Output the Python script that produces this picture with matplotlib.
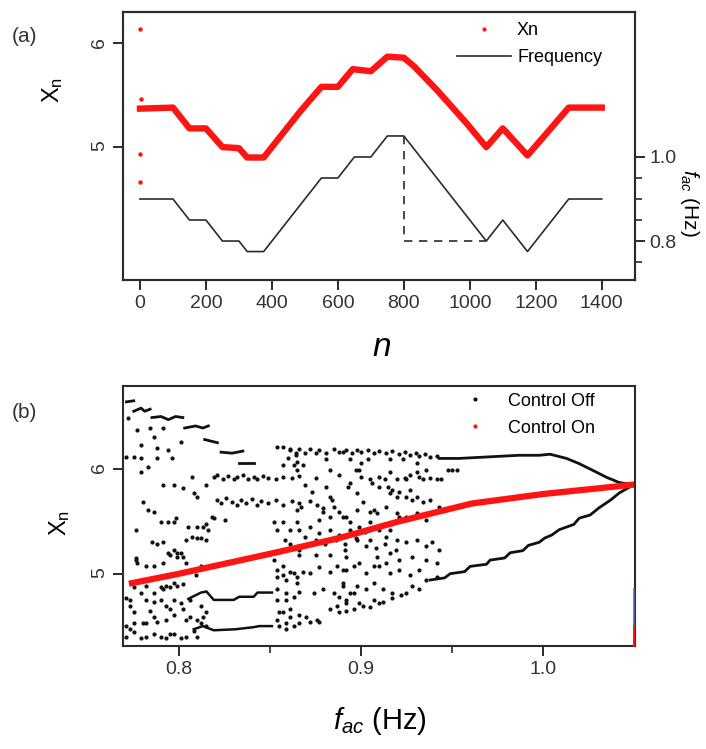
import matplotlib.pyplot as plt
from matplotlib.lines import Line2D

plt.rcParams['font.family'] = ['Liberation Sans', 'DejaVu Sans']
plt.rcParams['mathtext.fontset'] = 'custom'
plt.rcParams['mathtext.rm'] = 'Liberation Sans'
plt.rcParams['mathtext.it'] = 'Liberation Sans:italic'

# ---- panel (a): Xn and drive frequency against iteration n
n_freq = [0, 100, 150, 200, 250, 300, 325, 375, 550, 600, 650, 700, 750, 800, 1050, 1100, 1175, 1300, 1400]
freq = [0.9, 0.9, 0.85, 0.85, 0.8, 0.8, 0.775, 0.775, 0.95, 0.95, 1.0, 1.0, 1.05, 1.05, 0.8, 0.85, 0.775, 0.9, 0.9]
n_dash = [800, 800, 1050]
f_dash = [1.05, 0.8, 0.8]
n_xn = [0, 100, 150, 200, 250, 300, 325, 375, 485, 550, 600, 645, 700, 750, 800, 830, 900, 990, 1050, 1100, 1175, 1300, 1400]
xn = [5.37, 5.38, 5.18, 5.18, 5.0, 4.99, 4.9, 4.9, 5.34, 5.58, 5.58, 5.75, 5.73, 5.87, 5.86, 5.78, 5.55, 5.23, 5.0, 5.18, 4.92, 5.38, 5.38]
n_stray = [0, 0, 0, 3]
xn_stray = [6.14, 4.93, 4.66, 5.46]

# ---- panel (b): bifurcation diagram, control on
on_f = [0.774, 0.8, 0.85, 0.888, 0.921, 0.961, 1.0, 1.05]
on_x = [4.91, 5.0, 5.19, 5.34, 5.50, 5.67, 5.76, 5.85]

# control off: period-2 branches on the right
upper_f = [0.943, 0.954, 0.965, 0.976, 0.987, 0.998, 1.004, 1.013, 1.020, 1.027, 1.035, 1.042, 1.050]
upper_x = [6.10, 6.10, 6.11, 6.12, 6.13, 6.13, 6.14, 6.10, 6.05, 5.99, 5.92, 5.87, 5.85]
lower_f = [0.938, 0.946, 0.949, 0.957, 0.960, 0.969, 0.971, 0.979, 0.982, 0.989, 0.992, 0.998,
           1.001, 1.005, 1.009, 1.017, 1.020, 1.026, 1.031, 1.037, 1.042, 1.050]
lower_x = [4.94, 4.96, 5.00, 5.02, 5.07, 5.09, 5.13, 5.15, 5.20, 5.22, 5.27, 5.30,
           5.34, 5.37, 5.42, 5.47, 5.53, 5.56, 5.63, 5.70, 5.77, 5.85]

# short dense segments at low frequency
stair_f = [[0.771, 0.775], [0.775, 0.779, 0.781, 0.784], [0.785, 0.790, 0.794, 0.798, 0.802],
           [0.803, 0.809, 0.813, 0.816], [0.814, 0.821], [0.823, 0.829, 0.835], [0.833, 0.841]]
stair_x = [[6.64, 6.65], [6.55, 6.58, 6.55, 6.57], [6.49, 6.50, 6.47, 6.50, 6.49],
           [6.39, 6.41, 6.39, 6.41], [6.28, 6.25], [6.16, 6.15, 6.17], [6.06, 6.06]]
step_hi_f = [0.805, 0.812, 0.815, 0.819, 0.830, 0.833, 0.841, 0.843, 0.851]
step_hi_x = [4.76, 4.82, 4.83, 4.75, 4.75, 4.78, 4.78, 4.82, 4.82]
step_lo_f = [0.808, 0.813, 0.819, 0.831, 0.841, 0.844, 0.851]
step_lo_x = [4.47, 4.50, 4.46, 4.47, 4.49, 4.50, 4.50]

# scattered points of the chaotic region
off_f = [
    # upper-left
    0.772, 0.777, 0.786, 0.779, 0.788, 0.794, 0.801, 0.771, 0.775, 0.779, 0.788, 0.796, 0.779, 0.783,
    0.791, 0.797, 0.807, 0.802, 0.808, 0.810, 0.815, 0.780, 0.783, 0.786, 0.790, 0.794, 0.798, 0.805,
    0.810, 0.815, 0.818, 0.785, 0.788, 0.791, 0.794, 0.797, 0.799, 0.801, 0.776, 0.777, 0.782, 0.812,
    0.815, 0.819, 0.825, 0.784, 0.791,
    # lower-left
    0.771, 0.773, 0.775, 0.771, 0.775, 0.779, 0.782, 0.786, 0.790, 0.793, 0.797, 0.801, 0.804, 0.782,
    0.788, 0.793, 0.797, 0.790, 0.797, 0.801, 0.786, 0.793, 0.797, 0.802, 0.806, 0.812, 0.815, 0.812,
    0.815, 0.808, 0.804, 0.782, 0.779, 0.790, 0.793, 0.784, 0.775, 0.776, 0.797, 0.804, 0.807, 0.810,
    0.813, 0.816, 0.776, 0.786, 0.791, 0.795, 0.799, 0.802, 0.804, 0.812, 0.809, 0.794, 0.782, 0.791,
    0.795, 0.799, 0.773, 0.786, 0.795, 0.802, 0.806, 0.810, 0.813, 0.786, 0.780, 0.775, 0.773, 0.771,
    0.795, 0.810,
    # bands near 5.92 and 5.69
    0.819, 0.821, 0.824, 0.827, 0.830, 0.832, 0.835, 0.838, 0.841, 0.843, 0.846, 0.849, 0.853, 0.857,
    0.862, 0.866,
    0.821, 0.823, 0.826, 0.829, 0.832, 0.834, 0.837, 0.840, 0.843, 0.845, 0.849, 0.853, 0.857, 0.862,
    0.866,
    # 0.85 - 0.87
    0.852, 0.854, 0.857, 0.861, 0.865, 0.852, 0.857, 0.854, 0.859, 0.863, 0.865, 0.854, 0.859, 0.863,
    0.855, 0.861, 0.854, 0.859, 0.863, 0.854, 0.857, 0.861, 0.864, 0.860, 0.865, 0.857,
    # top edge of the chaotic band
    0.861, 0.864, 0.866, 0.869, 0.872, 0.875, 0.877, 0.881, 0.885, 0.888, 0.892, 0.895, 0.898, 0.900,
    0.904, 0.907, 0.910, 0.914, 0.917, 0.921, 0.924, 0.927, 0.930, 0.932, 0.935, 0.938, 0.942,
    # middle, upper part
    0.863, 0.865, 0.868, 0.881, 0.883, 0.900, 0.904, 0.916, 0.923, 0.881, 0.893, 0.900, 0.906, 0.910,
    0.913, 0.916, 0.920, 0.924, 0.927, 0.931, 0.931, 0.934, 0.938, 0.942, 0.944, 0.948, 0.950, 0.953,
    0.883, 0.884, 0.885, 0.872, 0.876, 0.879, 0.879, 0.865, 0.867, 0.888, 0.898, 0.905, 0.909, 0.916,
    0.920, 0.921, 0.925, 0.928, 0.931, 0.934, 0.938, 0.892, 0.921, 0.915, 0.917,
    0.890, 0.894, 0.899, 0.905, 0.910, 0.925, 0.927, 0.932, 0.936, 0.894, 0.898, 0.901, 0.907, 0.914,
    0.920, 0.925, 0.931, 0.936, 0.939, 0.943, 0.869, 0.875, 0.888, 0.897, 0.873,
    # middle, around the crossing
    0.890, 0.894, 0.899, 0.905, 0.910, 0.914, 0.920, 0.925, 0.931, 0.936, 0.939, 0.943, 0.898, 0.903,
    0.909, 0.916, 0.921, 0.928, 0.936, 0.942, 0.892, 0.899, 0.907, 0.914,
    0.866, 0.869, 0.872, 0.875, 0.877, 0.880, 0.883, 0.886, 0.888, 0.891, 0.894, 0.897, 0.902, 0.905,
    0.908, 0.913, 0.916, 0.919, 0.877, 0.883, 0.872, 0.866, 0.861, 0.858, 0.866, 0.875, 0.883, 0.891,
    # middle, lower part
    0.890, 0.896, 0.903, 0.910, 0.916, 0.921, 0.927, 0.932, 0.936, 0.942, 0.890, 0.898, 0.903, 0.907,
    0.912, 0.917, 0.925, 0.928, 0.932, 0.892, 0.899, 0.907, 0.912, 0.917, 0.922, 0.888, 0.892, 0.896,
    0.901, 0.905, 0.910, 0.888, 0.894,
    0.854, 0.857, 0.861, 0.865, 0.868, 0.872, 0.877, 0.883, 0.887, 0.892, 0.854, 0.859, 0.866, 0.874,
    0.879, 0.885, 0.890, 0.896, 0.857, 0.861, 0.866, 0.870, 0.876, 0.883, 0.887, 0.892, 0.855, 0.859,
    0.866, 0.872, 0.877,
]
off_x = [
    # upper-left
    6.49, 6.37, 6.30, 6.23, 6.20, 6.18, 6.26, 6.11, 6.11, 6.10, 6.10, 6.10, 5.97, 6.02,
    5.85, 5.85, 5.92, 5.82, 5.77, 5.73, 5.85, 5.68, 5.61, 5.59, 5.49, 5.49, 5.53, 5.45,
    5.45, 5.47, 5.54, 5.30, 5.28, 5.30, 5.20, 5.23, 5.16, 5.20, 5.15, 5.10, 5.07, 5.34,
    5.32, 5.53, 5.51, 6.39, 6.39,
    # lower-left
    4.77, 4.69, 4.63, 4.50, 4.44, 4.39, 4.40, 4.42, 4.40, 4.39, 4.42, 4.39, 4.40, 4.53,
    4.54, 4.56, 4.61, 4.75, 4.75, 4.72, 4.82, 4.88, 4.91, 4.90, 4.75, 4.69, 4.63, 4.53,
    4.50, 4.45, 4.56, 4.75, 4.82, 4.87, 4.69, 4.64, 4.87, 5.42, 5.49, 5.32, 5.35, 5.34,
    5.45, 5.42, 5.13, 5.07, 5.10, 5.18, 5.20, 5.16, 5.10, 5.07, 4.99, 4.99, 4.88, 4.85,
    4.87, 4.88, 4.75, 4.73, 4.66, 4.66, 4.59, 4.56, 4.59, 4.59, 4.53, 4.53, 4.47, 4.40,
    4.42, 4.40,
    # bands near 5.92 and 5.69
    5.92, 5.94, 5.90, 5.93, 5.90, 5.92, 5.94, 5.90, 5.92, 5.90, 5.93, 5.91, 5.90, 5.92,
    5.91, 5.93,
    5.70, 5.67, 5.72, 5.68, 5.66, 5.70, 5.67, 5.71, 5.66, 5.69, 5.67, 5.70, 5.66, 5.69,
    5.67,
    # 0.85 - 0.87
    5.49, 5.42, 5.49, 5.42, 5.49, 5.13, 5.07, 4.97, 4.94, 5.01, 4.91, 4.75, 4.75, 4.78,
    4.63, 4.59, 4.56, 4.53, 4.50, 6.21, 6.21, 6.18, 6.13, 6.10, 6.07, 6.04,
    # top edge of the chaotic band
    6.19, 6.15, 6.19, 6.15, 6.19, 6.15, 6.18, 6.15, 6.19, 6.16, 6.18, 6.15, 6.18, 6.16,
    6.18, 6.15, 6.17, 6.15, 6.17, 6.14, 6.16, 6.13, 6.15, 6.12, 6.14, 6.11, 6.12,
    # middle, upper part
    6.04, 5.99, 6.04, 6.09, 5.99, 6.06, 6.09, 6.09, 6.09, 5.83, 5.83, 5.92, 5.87, 5.92,
    5.90, 5.97, 5.90, 5.91, 5.94, 6.06, 5.97, 5.90, 5.91, 5.90, 5.90, 5.99, 5.99, 5.99,
    5.73, 5.70, 5.64, 5.69, 5.66, 5.63, 5.59, 5.61, 5.64, 5.59, 5.61, 5.59, 5.58, 5.77,
    5.73, 5.78, 5.73, 5.70, 5.73, 5.68, 5.70, 5.54, 5.54, 5.83, 5.80,
    6.16, 6.09, 5.99, 5.90, 5.83, 5.90, 5.80, 5.92, 5.99, 5.87, 5.77, 5.68, 5.61, 5.64,
    5.58, 5.54, 5.58, 5.51, 5.58, 5.64, 5.85, 5.91, 5.94, 5.99, 5.78,
    # middle, around the crossing
    5.54, 5.49, 5.45, 5.49, 5.42, 5.35, 5.32, 5.30, 5.32, 5.26, 5.30, 5.23, 5.32, 5.26,
    5.16, 5.20, 5.13, 5.16, 5.13, 5.10, 5.16, 5.10, 5.07, 5.10,
    5.42, 5.35, 5.45, 5.32, 5.39, 5.28, 5.42, 5.32, 5.37, 5.28, 5.42, 5.34, 5.40, 5.32,
    5.25, 5.28, 5.42, 5.23, 5.51, 5.54, 5.28, 5.23, 5.28, 5.32, 5.18, 5.18, 5.18, 5.23,
    # middle, lower part
    5.04, 5.07, 5.01, 5.07, 5.01, 5.04, 4.99, 5.04, 4.94, 4.97, 4.91, 4.88, 4.85, 4.91,
    4.85, 4.82, 4.82, 4.88, 4.85, 4.75, 4.72, 4.75, 4.73, 4.77, 4.80, 4.63, 4.64, 4.66,
    4.69, 4.68, 4.72, 4.78, 4.82,
    5.04, 4.99, 5.02, 4.97, 5.02, 5.01, 5.06, 5.02, 5.07, 5.04, 4.85, 4.82, 4.83, 4.82,
    4.85, 4.82, 4.88, 4.82, 4.63, 4.66, 4.61, 4.59, 4.56, 4.66, 4.69, 4.72, 4.50, 4.47,
    4.53, 4.54, 4.54,
]

ink = '#2b2b2b'
red = '#ff1414'

fig = plt.figure(figsize=(7.06, 7.49), dpi=100)

# ---------------- (a)
ax1 = fig.add_axes([0.174, 0.626, 0.725, 0.358])
ax1r = ax1.twinx()
ax1.plot(n_xn, xn, color=red, lw=4.6, solid_joinstyle='round')
ax1.plot(n_stray, xn_stray, ls='none', marker='o', ms=2.2, color=red)
ax1r.plot(n_freq, freq, color=ink, lw=1.2)
ax1r.plot(n_dash, f_dash, color=ink, lw=1.2, ls=(0, (5, 4)))

ax1.set_xlim(-52, 1500)
ax1.set_ylim(3.72, 6.3)
ax1r.set_ylim(0.707, 1.345)
ax1.set_xticks(range(0, 1401, 200))
ax1.set_yticks([5, 6])
ax1r.set_yticks([0.8, 1.0])
ax1r.set_yticklabels(['0.8', '1.0'])
ax1r.set_yticks([0.75, 0.85, 0.9, 0.95], minor=True)

ax1.set_xlabel('n', fontstyle='italic', fontsize=24, va='center')
ax1.xaxis.set_label_coords(0.506, -0.25)
ax1.set_ylabel(r'X$_{\mathrm{n}}$', fontsize=17, va='center')
ax1.yaxis.set_label_coords(-0.137, 0.709)
ax1r.set_ylabel(r'$f_{ac}$ (Hz)', fontsize=15, rotation=270, va='center')
ax1r.yaxis.set_label_coords(1.107, 0.287)

leg_a = [Line2D([], [], ls='none', marker='o', ms=2, color=red),
         Line2D([], [], color=ink, lw=1.2)]
ax1r.legend(leg_a, ['Xn', 'Frequency'], loc='upper left', bbox_to_anchor=(0.652, 0.963),
            frameon=False, fontsize=13, handlelength=3, handletextpad=0.35,
            labelspacing=0.55, borderpad=0, borderaxespad=0)

# ---------------- (b)
ax2 = fig.add_axes([0.174, 0.1375, 0.725, 0.347])
ax2.plot(off_f, off_x, ls='none', marker='o', ms=2.0, color='#111111')
for sf, sx in zip(stair_f, stair_x):
    ax2.plot(sf, sx, color='#111111', lw=2.0)
ax2.plot(step_hi_f, step_hi_x, color='#111111', lw=1.8)
ax2.plot(step_lo_f, step_lo_x, color='#111111', lw=1.8)
ax2.plot(upper_f, upper_x, color='#111111', lw=2.0)
ax2.plot(lower_f, lower_x, color='#111111', lw=2.0)
ax2.plot(on_f, on_x, color=red, lw=4.5)
ax2.plot([1.05, 1.05], [4.31, 4.50], color=red, lw=1.5, clip_on=False, zorder=5)
ax2.plot([1.05, 1.05], [4.50, 4.85], color='#5a6aa8', lw=1.2, clip_on=False, zorder=5)

ax2.set_xlim(0.769, 1.0505)
ax2.set_ylim(4.31, 6.79)
ax2.set_xticks([0.8, 0.9, 1.0])
ax2.set_xticklabels(['0.8', '0.9', '1.0'])
ax2.set_xticks([0.85, 0.95], minor=True)
ax2.set_yticks([5, 6])

ax2.set_xlabel(r'$f_{ac}$ (Hz)', fontsize=21, va='center')
ax2.xaxis.set_label_coords(0.502, -0.29)
ax2.set_ylabel(r'X$_{\mathrm{n}}$', fontsize=17, va='center')
ax2.yaxis.set_label_coords(-0.123, 0.473)

leg_b = [Line2D([], [], ls='none', marker='o', ms=2, color='#111111'),
         Line2D([], [], ls='none', marker='o', ms=2, color=red)]
ax2.legend(leg_b, ['Control Off', 'Control On'], loc='upper left', bbox_to_anchor=(0.635, 0.975),
           frameon=False, fontsize=13, handlelength=3, handletextpad=0.35,
           labelspacing=0.55, borderpad=0, borderaxespad=0)

for ax in (ax1, ax1r, ax2):
    for sp in ax.spines.values():
        sp.set_color(ink)
        sp.set_linewidth(1.5)
    ax.tick_params(which='major', direction='out', length=7, width=1.4, color=ink,
                   labelsize=14, labelcolor='#333333')
    ax.tick_params(which='minor', direction='out', length=5, width=1.2, color=ink)
ax1.tick_params(axis='y', labelrotation=90)
ax2.tick_params(axis='y', labelrotation=90)

fig.text(0.034, 0.951, '(a)', fontsize=15, ha='center', va='center', color='#333333')
fig.text(0.034, 0.449, '(b)', fontsize=15, ha='center', va='center', color='#333333')

plt.savefig('out.png', dpi=100)
